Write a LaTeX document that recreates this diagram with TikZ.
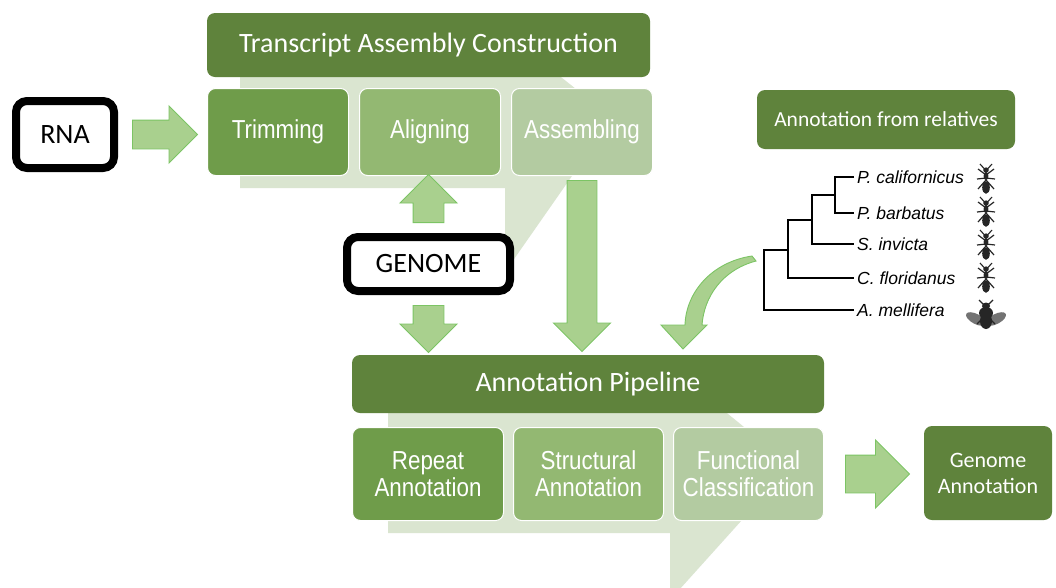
\documentclass[tikz,border=0pt]{standalone}
\usepackage{fontspec}
\setmainfont{Carlito}
\newfontfamily\arialfont{Liberation Sans}
\newfontfamily\narrowfont[FakeStretch=0.86]{Liberation Sans}
\usepackage{xcolor}
\usepackage{tikz}
\usetikzlibrary{calc}
\usetikzlibrary{positioning}
\usetikzlibrary{shapes.arrows}
\definecolor{darkgreen}{HTML}{5F833C}
\definecolor{trimgreen}{HTML}{6F9C4A}
\definecolor{aligngreen}{HTML}{93B872}
\definecolor{asmgreen}{HTML}{B3CBA1}
\definecolor{bggreen}{HTML}{DAE5D0}
\definecolor{arrowfill}{HTML}{A9D08E}
\definecolor{arrowline}{HTML}{7CC464}
\tikzstyle{header} = [fill=darkgreen, text=white, rounded corners=8pt,
inner sep=0pt, font=\fontsize{28}{30}\selectfont]
\tikzstyle{stepbox} = [draw=white, line width=1pt, text=white, rounded corners=8pt,
inner sep=0pt, align=center, font=\narrowfont\fontsize{26}{27}\selectfont]
\tikzstyle{seqbox} = [draw=black, fill=white, line width=8pt, rounded corners=11pt,
inner sep=0pt, font=\fontsize{28}{30}\selectfont]
\tikzstyle{barrow} = [single arrow, draw=arrowline, fill=arrowfill, line width=0.9pt,
inner xsep=0pt, anchor=tail]
\tikzstyle{vbarrow} = [single arrow, draw=arrowline, fill=arrowfill, line width=0.9pt,
inner ysep=0pt, anchor=tail]
\tikzstyle{species} = [anchor=west, inner sep=3pt, font=\arialfont\itshape\fontsize{17.5}{19}\selectfont]
\tikzset{
  ant/.pic={
    \draw[line width=1.1pt] (-1.5,-11) -- (-6,-16) (1.5,-11) -- (6,-16);
    \draw[line width=1.2pt] (0,-5) -- (-8,-11) (0,-5) -- (8,-11)
      (0,-2) -- (-9,-1) (0,-2) -- (9,-1)
      (0,0) -- (-8,9) (0,0) -- (8,9);
    \fill (0,-10) ellipse [x radius=2.8, y radius=2.6];
    \fill (0,-4) ellipse [x radius=2.4, y radius=4.2];
    \fill (0,7.5) ellipse [x radius=3.8, y radius=6.3];
  },
  bee/.pic={
    \fill[black!55] (-10,4) ellipse [x radius=11, y radius=5, rotate=-28];
    \fill[black!55] (10,4) ellipse [x radius=11, y radius=5, rotate=28];
    \draw[line width=1.1pt] (-2,-10) -- (-7,-15) (2,-10) -- (7,-15);
    \draw[line width=1.2pt] (0,0) -- (-9,9) (0,0) -- (9,9);
    \fill (0,-9) ellipse [x radius=4, y radius=3.5];
    \fill (0,-2) ellipse [x radius=7, y radius=6];
    \fill (0,6) ellipse [x radius=6, y radius=8];
  }
}

\begin{document}
\begin{tikzpicture}[x=1pt, y=-1pt]
    \fill[white] (0,0) rectangle (1056,587);
    \useasboundingbox (0,0) rectangle (1056,587);

    % light callout shapes behind the step boxes
    \fill[bggreen] (240,70) -- (552,70) -- (600,108) -- (600,160) -- (572,176)
        -- (505,272) -- (505,188) -- (240,188) -- cycle;
    \fill[bggreen] (388,405) -- (717,405) -- (760,440) -- (760,505) -- (742,520)
        -- (670,600) -- (670,533) -- (388,533) -- cycle;

    % transcript assembly
    \node[header, minimum width=443pt, minimum height=64pt] (tac) at (428.5,45)
        {Transcript Assembly Construction};
    \node[stepbox, fill=trimgreen, minimum width=141pt, minimum height=87pt,
        anchor=north west] (trim) at (207,88) {Trimming};
    \node[stepbox, fill=aligngreen, minimum width=141pt, minimum height=87pt,
        right=10pt of trim] (align) {Aligning};
    \node[stepbox, fill=asmgreen, minimum width=141pt, minimum height=87pt,
        right=10pt of align] (asm) {Assembling};

    \node[seqbox, minimum width=98pt, minimum height=67pt] (rna) at (65,134.5) {RNA};
    \node[seqbox, minimum width=163pt, minimum height=54pt] (genome) at (428.5,264) {GENOME};

    % annotation pipeline
    \node[header, minimum width=472pt, minimum height=58pt] (pipe) at (588,384)
        {Annotation Pipeline};
    \node[stepbox, fill=trimgreen, minimum width=151pt, minimum height=93pt,
        anchor=north west] (rep) at (352,427) {Repeat\\Annotation};
    \node[stepbox, fill=aligngreen, minimum width=150pt, minimum height=93pt,
        right=9pt of rep] (struct) {Structural\\Annotation};
    \node[stepbox, fill=asmgreen, minimum width=150pt, minimum height=93pt,
        right=9pt of struct] (func) {Functional\\Classification};
    \node[header, minimum width=128pt, minimum height=94pt, align=center,
        font=\fontsize{22}{26}\selectfont] (gann) at (988,473) {Genome\\Annotation};

    % relatives
    \node[header, minimum width=258pt, minimum height=59pt,
        font=\fontsize{21.5}{24}\selectfont] (rel) at (886,119.5) {Annotation from relatives};
    \node[species] (pc) at (854,177) {P. californicus};
    \node[species] (pb) at (854,213) {P. barbatus};
    \node[species] (si) at (854,244) {S. invicta};
    \node[species] (cf) at (854,278) {C. floridanus};
    \node[species] (am) at (854,310) {A. mellifera};
    \coordinate (n1) at (835,195);
    \coordinate (n2) at (812,220);
    \coordinate (n3) at (788,250);
    \coordinate (n4) at (764,280);
    \draw[line width=1.1pt] (pc.west) -| (n1) |- (pb.west);
    \draw[line width=1.1pt] (n1) -| (n2) |- (si.west);
    \draw[line width=1.1pt] (n2) -| (n3) |- (cf.west);
    \draw[line width=1.1pt] (n3) -| (n4) |- (am.west);
    \pic[black!85] at (986,180) {ant};
    \pic[black!85] at (986,213) {ant};
    \pic[black!85] at (986,246) {ant};
    \pic[black!85] at (986,279) {ant};
    \pic[black!85] at (986,315) {bee};

    % block arrows
    \node[barrow, minimum height=65pt, inner ysep=14pt, single arrow head extend=14pt]
        (a1) at ($(rna.east)+(14,0)$) {};
    \node[vbarrow, minimum height=48pt, inner xsep=15pt, single arrow head extend=13pt,
        shape border rotate=90] (a2) at ($(genome.north)+(0,-10)$) {};
    \node[vbarrow, minimum height=47pt, inner xsep=15pt, single arrow head extend=13pt,
        shape border rotate=270] (a3) at ($(genome.south)+(0,10)$) {};
    \node[vbarrow, minimum height=171pt, inner xsep=14.5pt, single arrow head extend=13.5pt,
        shape border rotate=270] (a4) at ($(asm.south)+(0,4)$) {};
    \node[barrow, minimum height=64pt, inner ysep=18.5pt, single arrow head extend=15pt]
        (a5) at ($(func.east)+(21,0)$) {};
    \coordinate (ctail) at (752,256);
    \coordinate (ctip) at (683,349);
    \filldraw[draw=arrowline, fill=arrowfill, line width=0.9pt]
        (ctail) .. controls (712,262) and (686,292) .. (685,325)
        -- (661,325) -- (ctip) -- (707,325) -- (702,325)
        .. controls (704,297) and (722,270) .. (756,261) -- cycle;
\end{tikzpicture}
\end{document}
